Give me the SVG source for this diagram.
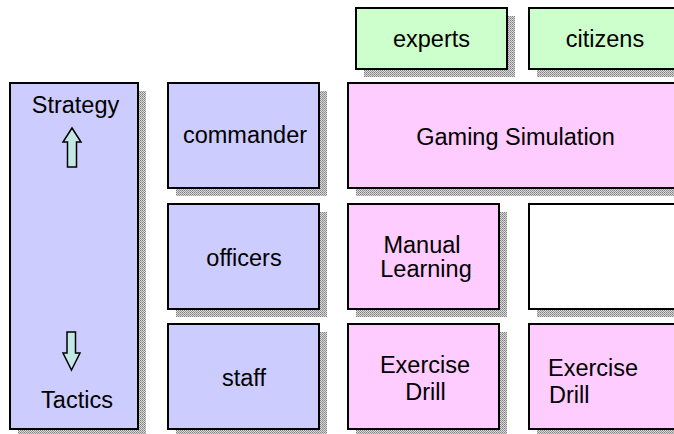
<svg xmlns="http://www.w3.org/2000/svg" width="674" height="434" viewBox="0 0 674 434">
<defs>
<pattern id="hatch" width="2" height="2" patternUnits="userSpaceOnUse">
<rect width="2" height="2" fill="#d8d8d8"/>
<rect width="1" height="1" fill="#808080"/>
<rect x="1" y="1" width="1" height="1" fill="#9a9a9a"/>
</pattern>
<style>
.sh{fill:url(#hatch);}
.box{stroke:#000;stroke-width:2;}
.blue{fill:#ccccff;}
.pink{fill:#ffccff;}
.green{fill:#ccffcc;}
.white{fill:#ffffff;}
.arrow{fill:#c4e8e4;stroke:#000;stroke-width:1.5;stroke-linejoin:miter;}
text{font-family:"Liberation Sans",Arial,sans-serif;font-size:23.5px;fill:#000;}
.c{text-anchor:middle;}
</style>
</defs>
<rect width="674" height="434" fill="#fff"/>
<g id="connectors"></g>

<g id="experts">
<rect class="sh" x="364" y="16" width="151" height="61"/>
<rect class="box green" x="356" y="8" width="151" height="61"/>
<text class="c" x="431.5" y="47">experts</text>
</g>
<g id="citizens">
<rect class="sh" x="537" y="16" width="151" height="61"/>
<rect class="box green" x="529" y="8" width="151" height="61"/>
<text class="c" x="605" y="47">citizens</text>
</g>

<g id="strategy-tactics">
<rect class="sh" x="18" y="91" width="128" height="346"/>
<rect class="box blue" x="10" y="83" width="128" height="346"/>
<text class="c" x="75.5" y="113">Strategy</text>
<path class="arrow" d="M72,128 L81,142 L76.5,142 L76.5,167 L67.5,167 L67.5,142 L63,142 Z"/>
<path class="arrow" d="M71.5,370 L80,353 L75.5,353 L75.5,332 L67,332 L67,353 L63,353 Z"/>
<text class="c" x="77" y="408">Tactics</text>
</g>

<g id="commander">
<rect class="sh" x="176" y="91" width="151" height="105"/>
<rect class="box blue" x="168" y="83" width="151" height="105"/>
<text class="c" x="245" y="143">commander</text>
</g>
<g id="officers">
<rect class="sh" x="176" y="212" width="151" height="105"/>
<rect class="box blue" x="168" y="204" width="151" height="105"/>
<text class="c" x="244" y="266">officers</text>
</g>
<g id="staff">
<rect class="sh" x="176" y="332" width="151" height="105"/>
<rect class="box blue" x="168" y="324" width="151" height="105"/>
<text class="c" x="244" y="386">staff</text>
</g>

<g id="gaming-simulation">
<rect class="sh" x="356" y="91" width="332" height="105"/>
<rect class="box pink" x="348" y="83" width="332" height="105"/>
<text class="c" x="515.5" y="145">Gaming Simulation</text>
</g>
<g id="manual-learning">
<rect class="sh" x="356" y="212" width="151" height="105"/>
<rect class="box pink" x="348" y="204" width="151" height="105"/>
<text class="c" x="422" y="253">Manual</text>
<text class="c" x="426" y="277">Learning</text>
</g>
<g id="empty">
<rect class="sh" x="537" y="212" width="151" height="105"/>
<rect class="box white" x="529" y="204" width="151" height="105"/>
</g>
<g id="exercise-drill-1">
<rect class="sh" x="356" y="332" width="151" height="105"/>
<rect class="box pink" x="348" y="324" width="151" height="105"/>
<text class="c" x="425" y="372.5">Exercise</text>
<text class="c" x="425.5" y="400">Drill</text>
</g>
<g id="exercise-drill-2">
<rect class="sh" x="537" y="332" width="151" height="105"/>
<rect class="box pink" x="529" y="324" width="151" height="105"/>
<text x="548" y="375.5">Exercise</text>
<text x="549" y="402.5">Drill</text>
</g>
</svg>
